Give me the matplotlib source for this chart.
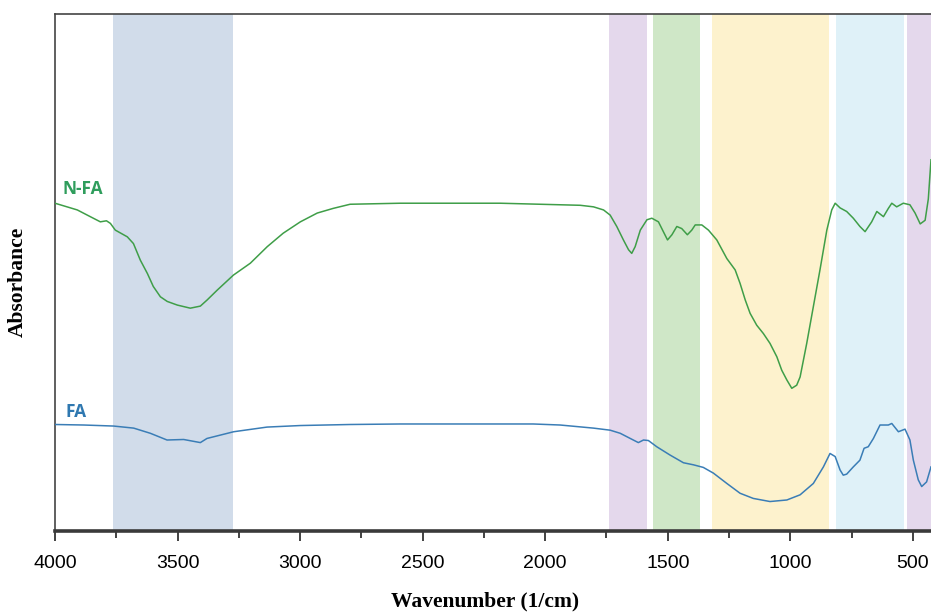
import matplotlib
matplotlib.use("Agg")
import matplotlib.pyplot as plt
from matplotlib.ticker import MultipleLocator

# ---- data ----
band_ranges = [(3762, 3272), (1741, 1586), (1561, 1370), (1321, 843), (815, 537), (525, 420)]
band_colors = ["#d1dcea", "#e4d8ec", "#cfe7c7", "#fdf2cd", "#dff1f8", "#e4d8ec"]

nfa_wn = [4000, 3909, 3856, 3815, 3790, 3774, 3754, 3705, 3680, 3652, 3623, 3599, 3570,
          3542, 3501, 3448, 3407, 3379, 3338, 3272, 3203, 3134, 3069, 2999, 2930, 2865,
          2796, 2591, 2184, 1857, 1803, 1762, 1735, 1708, 1681, 1660, 1647, 1633, 1612,
          1585, 1565, 1538, 1518, 1501, 1483, 1463, 1443, 1420, 1402, 1388, 1361, 1334,
          1300, 1259, 1225, 1205, 1184, 1164, 1137, 1110, 1083, 1055, 1035, 1014, 994,
          974, 960, 933, 906, 879, 851, 831, 817, 797, 770, 743, 716, 695, 668, 647, 620,
          600, 586, 566, 539, 512, 491, 470, 450, 437, 426]
nfa_abs = [0.634, 0.621, 0.608, 0.598, 0.600, 0.595, 0.582, 0.569, 0.556, 0.524, 0.498,
           0.473, 0.453, 0.444, 0.437, 0.431, 0.435, 0.447, 0.466, 0.495, 0.518, 0.550,
           0.576, 0.598, 0.615, 0.624, 0.632, 0.634, 0.634, 0.630, 0.627, 0.621, 0.611,
           0.589, 0.563, 0.544, 0.537, 0.550, 0.582, 0.602, 0.605, 0.598, 0.579, 0.563,
           0.573, 0.589, 0.585, 0.573, 0.582, 0.592, 0.592, 0.582, 0.563, 0.527, 0.505,
           0.479, 0.447, 0.421, 0.398, 0.382, 0.363, 0.337, 0.311, 0.292, 0.276, 0.282,
           0.298, 0.363, 0.434, 0.505, 0.582, 0.621, 0.634, 0.625, 0.618, 0.605, 0.589,
           0.579, 0.598, 0.618, 0.608, 0.624, 0.634, 0.627, 0.634, 0.631, 0.615, 0.594,
           0.601, 0.642, 0.718]

fa_wn = [4000, 3883, 3761, 3679, 3611, 3543, 3475, 3407, 3380, 3271, 3135, 2999, 2796,
         2591, 2049, 1939, 1871, 1803, 1735, 1694, 1653, 1620, 1599, 1579, 1545, 1491,
         1436, 1395, 1355, 1314, 1259, 1205, 1151, 1083, 1014, 960, 906, 865, 838, 817,
         797, 784, 770, 743, 716, 699, 682, 661, 634, 600, 586, 559, 532, 512, 498, 478,
         464, 444, 426]
fa_abs = [0.206, 0.205, 0.203, 0.199, 0.189, 0.176, 0.177, 0.171, 0.179, 0.192, 0.201,
          0.204, 0.206, 0.207, 0.207, 0.205, 0.202, 0.199, 0.195, 0.189, 0.179, 0.171,
          0.176, 0.175, 0.163, 0.147, 0.132, 0.128, 0.123, 0.112, 0.092, 0.073, 0.063,
          0.057, 0.060, 0.070, 0.092, 0.124, 0.150, 0.144, 0.118, 0.108, 0.110, 0.124,
          0.137, 0.160, 0.163, 0.179, 0.205, 0.205, 0.208, 0.192, 0.197, 0.176, 0.137,
          0.099, 0.086, 0.095, 0.124]

series_labels = ["N-FA", "FA"]
tick_values = [4000, 3500, 3000, 2500, 2000, 1500, 1000, 500]

# ---- figure ----
fig = plt.figure(figsize=(9.31, 6.15), dpi=100)
ax = fig.add_axes([55 / 931, 1 - 531 / 615, 1 - 55 / 931, 517 / 615])

for (a, b), c in zip(band_ranges, band_colors):
    ax.axvspan(a, b, color=c, lw=0, zorder=0)

ax.plot(nfa_wn, nfa_abs, color="#3f9e48", lw=1.1, zorder=3)
ax.plot(fa_wn, fa_abs, color="#3a7db6", lw=1.1, zorder=3)

ax.text(3970, 0.662, series_labels[0], color="#2f9d5c", fontsize=12.5, fontweight="bold",
        family="Open Sans", ha="left", va="center")
ax.text(3958, 0.230, series_labels[1], color="#2f78b0", fontsize=12.5, fontweight="bold",
        family="Open Sans", ha="left", va="center")

ax.set_xlim(4000, 426)
ax.set_ylim(0, 1)
ax.set_xticks(tick_values)
ax.set_xticklabels([str(t) for t in tick_values], family="Liberation Sans", fontsize=14)
ax.xaxis.set_minor_locator(MultipleLocator(250))
ax.tick_params(axis="x", which="major", direction="out", length=7, width=1.3,
               color="#333333", pad=10)
ax.tick_params(axis="x", which="minor", direction="out", length=5, width=1.3,
               color="#333333")
ax.set_yticks([])

ax.spines["right"].set_visible(False)
ax.spines["bottom"].set_linewidth(2.6)
ax.spines["bottom"].set_color("#3a3a3a")
ax.spines["left"].set_linewidth(1.2)
ax.spines["left"].set_color("#444444")
ax.spines["top"].set_linewidth(1.2)
ax.spines["top"].set_color("#444444")

fig.text(485 / 931, 1 - 601 / 615, "Wavenumber (1/cm)", family="Liberation Serif",
         fontweight="bold", fontsize=15.5, ha="center", va="center")
fig.text(18 / 931, 1 - 282 / 615, "Absorbance", family="Liberation Serif",
         fontweight="bold", fontsize=15.5, rotation=90, ha="center", va="center")

fig.savefig("out.png", dpi=100)
